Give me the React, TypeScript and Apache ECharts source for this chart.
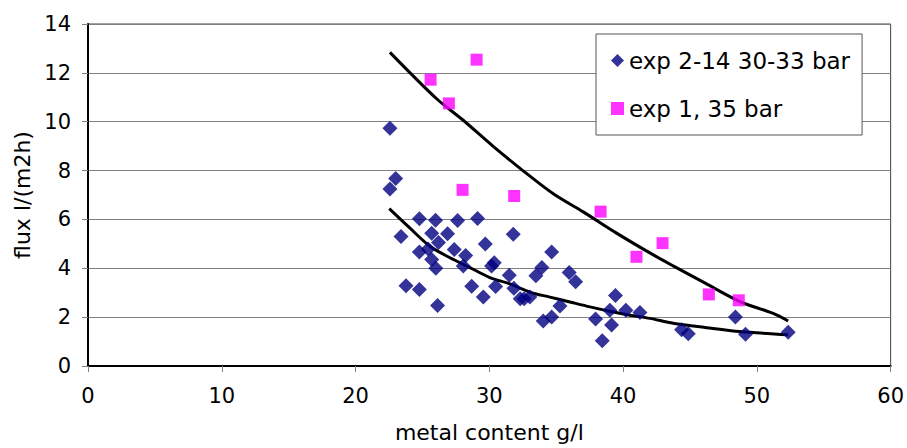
import React, { useEffect, useRef } from "react";
import * as echarts from "echarts";

const xTicks = [0, 10, 20, 30, 40, 50, 60];
const yTicks = [0, 2, 4, 6, 8, 10, 12, 14];

const seriesNames = ["exp 2-14 30-33 bar", "exp 1, 35 bar"];

const exp214: [number, number][] = [
  [22.57, 9.73], [23.0, 7.68], [22.57, 7.25], [23.4, 5.3], [24.77, 6.03],
  [25.98, 5.97], [27.63, 5.96], [29.12, 6.04], [25.69, 5.43], [26.88, 5.41],
  [26.2, 5.06], [24.77, 4.67], [25.43, 4.79], [25.69, 4.36], [26.0, 4.0],
  [27.38, 4.77], [28.23, 4.52], [28.05, 4.09], [29.7, 4.99], [31.79, 5.39],
  [23.77, 3.29], [24.77, 3.13], [26.13, 2.48], [28.68, 3.26], [29.55, 2.82],
  [30.17, 4.09], [30.37, 4.23], [30.47, 3.25], [31.49, 3.72], [31.84, 3.18],
  [32.31, 2.75], [33.03, 2.82], [33.48, 3.69], [33.93, 4.03], [34.66, 4.67],
  [35.28, 2.46], [34.03, 1.84], [34.66, 2.01], [35.97, 3.83], [36.45, 3.45],
  [37.94, 1.92], [38.44, 1.03], [39.14, 1.68], [39.01, 2.28], [39.43, 2.89],
  [40.21, 2.28], [41.26, 2.19], [44.37, 1.48], [44.87, 1.32], [48.4, 2.01],
  [49.15, 1.3], [52.34, 1.38], [32.6, 2.75],
];

const exp1: [number, number][] = [
  [25.61, 11.72], [26.98, 10.75], [29.05, 12.54], [28.0, 7.21], [31.86, 6.96],
  [38.32, 6.32], [41.0, 4.47], [42.95, 5.03], [46.41, 2.93], [48.65, 2.69],
];

const trendUpper: [number, number][] = [
  [22.57, 12.84], [26.06, 10.94], [28.05, 10.06], [30.29, 8.99], [32.53, 7.99],
  [34.78, 7.05], [37.02, 6.31], [39.51, 5.44], [42.0, 4.63], [43.74, 4.1],
  [46.24, 3.36], [48.73, 2.64], [51.22, 2.15], [52.34, 1.84],
];

const trendLower: [number, number][] = [
  [22.52, 6.44], [24.07, 5.64], [25.56, 4.9], [27.06, 4.43], [28.55, 4.03],
  [30.04, 3.62], [31.54, 3.36], [33.03, 3.02], [34.53, 2.82], [36.02, 2.62],
  [37.52, 2.42], [39.01, 2.24], [40.51, 2.08], [42.0, 1.95], [43.74, 1.75],
  [46.24, 1.57], [48.73, 1.41], [52.34, 1.28],
];

const FONT = "DejaVu Sans";

export default function App() {
  const ref = useRef<HTMLDivElement>(null);
  useEffect(() => {
    if (!ref.current) return;
    const chart = echarts.init(ref.current, null, { renderer: "svg" });
    chart.setOption({
      animation: false,
      backgroundColor: "#ffffff",
      textStyle: { fontFamily: FONT, color: "#000" },
      grid: {
        left: 88,
        right: 16,
        top: 24,
        bottom: 76,
        show: true,
        borderColor: "#404040",
        borderWidth: 1,
      },
      legend: {
        orient: "vertical",
        left: 596,
        top: 34,
        data: [
          { name: seriesNames[0], icon: "diamond" },
          { name: seriesNames[1], icon: "rect" },
        ],
        itemWidth: 13,
        itemHeight: 13,
        itemGap: 25,
        itemTextGap: 16,
        padding: [15, 12, 15, 15],
        backgroundColor: "#fff",
        borderColor: "#555",
        borderWidth: 1,
        borderRadius: 0,
        textStyle: { fontFamily: FONT, fontSize: 23, color: "#000", lineHeight: 23 },
      },
      xAxis: {
        type: "value",
        min: xTicks[0],
        max: xTicks[xTicks.length - 1],
        interval: 10,
        name: "metal content g/l",
        nameLocation: "middle",
        nameGap: 55,
        nameTextStyle: { fontFamily: FONT, fontSize: 22, color: "#000" },
        axisLine: { show: true, onZero: false, lineStyle: { color: "#000", width: 2 } },
        axisTick: { show: true, length: 6, lineStyle: { color: "#808080" } },
        axisLabel: { margin: 19, fontFamily: FONT, fontSize: 21, color: "#000" },
        splitLine: { show: false },
      },
      yAxis: {
        type: "value",
        min: yTicks[0],
        max: yTicks[yTicks.length - 1],
        interval: 2,
        name: "flux l/(m2h)",
        nameLocation: "middle",
        nameGap: 54,
        nameTextStyle: { fontFamily: FONT, fontSize: 22, color: "#000" },
        axisLine: { show: true, onZero: false, lineStyle: { color: "#000", width: 2 } },
        axisTick: { show: true, length: 6, lineStyle: { color: "#808080" } },
        axisLabel: { margin: 17, fontFamily: FONT, fontSize: 21, color: "#000" },
        splitLine: { show: true, lineStyle: { color: "#808080", width: 1 } },
      },
      series: [
        {
          name: "trend upper",
          type: "line",
          data: trendUpper,
          showSymbol: false,
          smooth: 0.3,
          lineStyle: { color: "#000", width: 3 },
          z: 3,
        },
        {
          name: "trend lower",
          type: "line",
          data: trendLower,
          showSymbol: false,
          smooth: 0.3,
          lineStyle: { color: "#000", width: 3 },
          z: 3,
        },
        {
          name: seriesNames[0],
          type: "scatter",
          data: exp214,
          symbol: "diamond",
          symbolSize: 15,
          itemStyle: { color: "#000080" },
          z: 4,
        },
        {
          name: seriesNames[1],
          type: "scatter",
          data: exp1,
          symbol: "rect",
          symbolSize: 12,
          itemStyle: { color: "#ff00ff" },
          z: 4,
        },
      ],
    });
    return () => chart.dispose();
  }, []);
  return (
    <div
      ref={ref}
      style={{ position: "fixed", left: 0, top: 0, width: 907, height: 448 }}
    />
  );
}
